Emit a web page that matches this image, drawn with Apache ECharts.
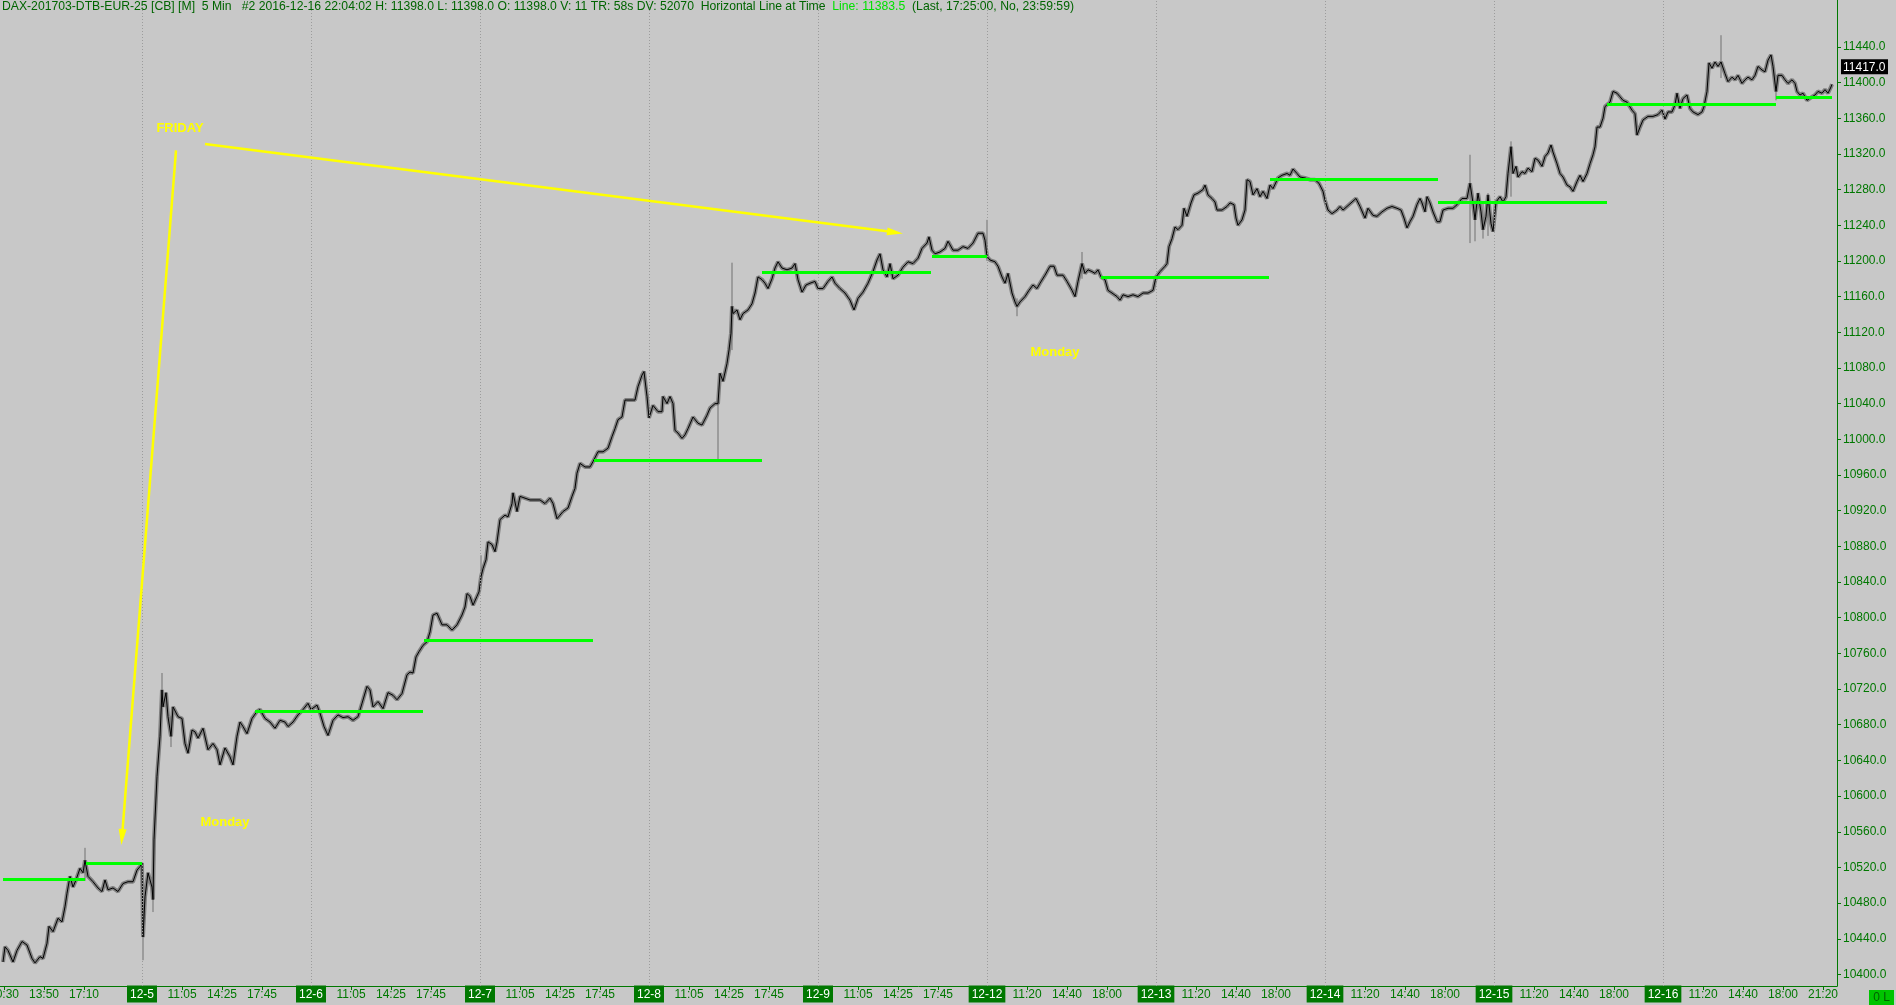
<!DOCTYPE html>
<html><head><meta charset="utf-8">
<script src="https://cdn.jsdelivr.net/npm/echarts@6/dist/echarts.min.js"></script>
<style>html,body{margin:0;padding:0;background:#c8c8c8;overflow:hidden}#c{width:1896px;height:1005px}</style>
</head><body><div id="c"></div><script>
// ---- DATA (x = 5-minute bar number from the left edge, y = price) ----
const closes = [
[3,10414],[5,10431],[8,10427],[13,10414],[17,10427],[22,10437],[27,10433],[32,10418],[35,10413],[40,10420],[43,10418],[47,10435],[49,10454],[53,10448],[58,10463],[62,10459],[65,10476],[67,10491],[70,10510],[73,10498],[76,10506],[80,10519],[83,10514],[85,10528],[88,10510],[93,10504],[98,10497],[102,10493],[105,10506],[108,10495],[113,10497],[118,10493],[123,10502],[128,10504],[133,10504],[137,10517],[140,10521],[142,10525],
[143,10442],[145,10487],[148,10514],[152,10498],[153,10484],[154,10551],[157,10622],[160,10667],[162,10719],[163,10700],[166,10716],[168,10689],[171,10667],[173,10700],[178,10689],[182,10687],[185,10659],[188,10648],[192,10674],[195,10672],[198,10665],[203,10676],[208,10652],[213,10659],[217,10652],[220,10635],[225,10654],[230,10644],[233,10635],[237,10667],[240,10683],[243,10678],[247,10670],[252,10687],[257,10695],[260,10697],[265,10687],[270,10683],[275,10676],[280,10685],[285,10683],[288,10678],[293,10683],[298,10691],[303,10697],[308,10704],[311,10697],
[317,10702],[320,10693],[324,10678],[328,10668],[333,10685],[338,10691],[343,10688],[348,10689],[353,10685],[358,10689],[362,10704],[367,10723],[370,10719],[373,10700],[378,10706],[383,10698],[388,10716],[393,10713],[397,10708],[402,10715],[407,10736],[410,10739],[413,10738],[416,10756],[419,10762],[423,10769],[427,10773],[430,10784],[433,10803],[437,10805],[442,10792],[447,10792],[452,10786],[457,10792],[462,10803],[465,10812],[467,10827],[470,10824],[473,10814],[477,10824],[479,10829],
[481,10846],[483,10855],[486,10865],[488,10885],[492,10882],[495,10874],[497,10885],[500,10910],[505,10915],[508,10913],[512,10928],[513,10940],[517,10919],[520,10936],[525,10934],[530,10932],[535,10932],[540,10932],[545,10928],[550,10934],[553,10928],[557,10911],[560,10915],[563,10919],[568,10923],[572,10936],[575,10945],[577,10962],[580,10973],[585,10969],[590,10969],[593,10975],[598,10986],[603,10986],[608,10990],[612,11003],[615,11012],[618,11022],[622,11025],[625,11044],[630,11044],[635,11044],[638,11059],[642,11072],[644,11076],[647,11048],
[649,11024],[653,11038],[658,11031],[662,11031],[663,11048],[667,11040],[670,11048],[673,11040],[675,11010],[678,11007],[682,11001],[685,11005],[688,11012],[693,11025],[698,11018],[702,11016],[707,11027],[710,11035],[715,11040],[718,11040],[720,11074],[723,11065],[727,11085],[729,11100],[731,11119],[732,11149],[733,11141],[737,11145],[740,11134],[743,11141],[748,11145],[752,11152],[755,11164],[758,11182],[762,11179],[765,11175],[768,11169],[772,11180],[775,11192],[778,11199],[782,11192],[787,11190],[792,11192],[795,11197],[798,11179],[802,11165],[806,11173],[810,11175],[815,11177],[818,11169],
[823,11169],[828,11177],[832,11182],[835,11175],[840,11169],[845,11164],[850,11156],[854,11145],[858,11158],[863,11165],[868,11175],[873,11188],[877,11201],[880,11208],[883,11190],[887,11182],[890,11197],[893,11180],[898,11184],[903,11193],[908,11199],[913,11197],[918,11203],[922,11214],[927,11220],[929,11227],[932,11212],[935,11208],[940,11210],[945,11214],[948,11222],[953,11212],[958,11212],[963,11216],[968,11214],[973,11220],[978,11231],[983,11231],[985,11223],[987,11205],
[990,11201],[995,11199],[998,11194],[1002,11182],[1005,11175],[1008,11186],[1012,11164],[1015,11154],[1017,11149],[1020,11154],[1025,11160],[1029,11167],[1033,11173],[1037,11169],[1040,11175],[1045,11184],[1050,11194],[1054,11194],[1057,11184],[1063,11184],[1067,11177],[1072,11167],[1075,11160],[1078,11177],[1082,11197],[1085,11186],[1088,11190],[1092,11188],[1095,11186],[1098,11190],[1101,11182],[1105,11179],[1108,11167],[1112,11164],[1117,11160],[1120,11156],[1123,11162],[1128,11160],[1133,11162],[1138,11160],[1143,11164],[1148,11164],[1153,11167],[1156,11182],
[1160,11188],[1165,11194],[1167,11197],[1169,11216],[1172,11225],[1175,11238],[1178,11235],[1182,11240],[1184,11259],[1187,11250],[1191,11265],[1194,11274],[1198,11276],[1203,11280],[1205,11285],[1208,11274],[1212,11270],[1215,11266],[1217,11257],[1222,11257],[1227,11261],[1230,11265],[1234,11263],[1236,11248],[1238,11240],[1242,11246],[1245,11257],[1247,11291],[1250,11289],[1253,11274],[1257,11281],[1260,11272],[1263,11278],[1267,11270],[1270,11285],[1273,11281],[1278,11293],[1282,11296],[1287,11298],[1290,11296],[1293,11303],[1297,11298],[1300,11294],[1305,11293],[1310,11291],[1315,11291],[1319,11287],[1323,11278],[1325,11268],
[1328,11257],[1332,11253],[1337,11257],[1340,11261],[1343,11257],[1347,11261],[1352,11266],[1356,11270],[1360,11261],[1365,11248],[1368,11259],[1373,11251],[1377,11250],[1382,11255],[1387,11259],[1392,11261],[1397,11259],[1401,11257],[1404,11248],[1407,11237],[1410,11244],[1413,11250],[1417,11263],[1420,11270],[1422,11265],[1425,11255],[1427,11272],[1430,11265],[1433,11255],[1437,11244],[1440,11244],[1443,11257],[1448,11259],[1453,11259],[1457,11263],[1462,11270],[1467,11270],[1470,11287],[1473,11265],[1475,11246],[1478,11276],[1481,11255],[1483,11235],[1486,11250],[1488,11274],[1491,11242],[1493,11233],
[1496,11266],[1500,11272],[1503,11266],[1506,11272],[1508,11298],[1511,11328],[1513,11298],[1516,11306],[1518,11294],[1522,11300],[1525,11298],[1528,11304],[1532,11300],[1535,11315],[1538,11313],[1542,11306],[1545,11317],[1548,11321],[1551,11330],[1553,11322],[1557,11309],[1560,11298],[1563,11294],[1567,11285],[1570,11283],[1573,11278],[1577,11289],[1580,11296],[1583,11289],[1587,11298],[1590,11309],[1593,11319],[1595,11328],[1597,11350],[1600,11350],[1603,11360],[1605,11373],[1607,11375],[1610,11378],[1613,11390],[1617,11388],[1620,11384],[1623,11380],[1627,11378],[1632,11369],[1635,11365],[1637,11341],[1640,11350],[1643,11358],[1648,11362],[1653,11362],[1658,11364],[1662,11369],
[1665,11359],[1668,11367],[1672,11367],[1675,11375],[1677,11388],[1680,11371],[1683,11382],[1687,11386],[1690,11371],[1693,11367],[1698,11364],[1702,11367],[1704,11373],[1707,11390],[1709,11422],[1712,11416],[1715,11423],[1718,11418],[1721,11423],[1723,11425],[1725,11410],[1728,11401],[1732,11406],[1735,11403],[1738,11408],[1742,11399],[1745,11403],[1748,11406],[1752,11403],[1755,11408],[1758,11418],[1762,11414],[1765,11412],[1768,11425],[1771,11431],[1773,11418],[1776,11390],[1778,11408],[1782,11408],[1785,11403],[1788,11399],[1792,11403],[1795,11399],[1797,11390],[1800,11386],[1803,11388],[1807,11380],[1812,11384],[1815,11386],[1818,11390],[1822,11388],[1825,11392],[1828,11388],[1831,11395],[1832,11398]
];
// [bar, low, high] for the long bar wicks
const wicks = [[85,10505,10542],[143,10416,10446],[153,10470,10500],[162,10700,10738],[171,10655,10690],[481,10842,10870],[718,10977,11042],[732,11100,11198],[987,11200,11246],[1017,11138,11158],[1082,11180,11210],[1470,11220,11319],[1475,11222,11262],[1483,11225,11266],[1488,11228,11276],[1511,11272,11334],[1721,11405,11453],[1776,11380,11395]];
// horizontal "line at time 17:25" levels: [startBar, endBar, price]
const levelLines = [[3,85,10507],[86,142,10525],[255,423,10695],[424,593,10775],[594,762,10977],[762,931,11187],[932,987,11205],[1101,1269,11182],[1270,1438,11292],[1438,1607,11266],[1607,1776,11376],[1776,1832,11384]];
const dayStarts = [142,311,480,649,818,987,1156,1325,1494,1663];
const dayNames = ['12-5','12-6','12-7','12-8','12-9','12-12','12-13','12-14','12-15','12-16'];
const fridayTickBars = [4,44,84];
const fridayTimes = ['10:30','13:50','17:10'];
const intradayOffsets = [40,80,120,160];
const week1Times = ['11:05','14:25','17:45'];
const week2Times = ['11:20','14:40','18:00','21:20'];
const yTicks = [10400,10440,10480,10520,10560,10600,10640,10680,10720,10760,10800,10840,10880,10920,10960,11000,11040,11080,11120,11160,11200,11240,11280,11320,11360,11400,11440];
const priceMarker = 11417;
// annotations in data coordinates
const arrows = [[[176,11324],[122,10554]],[[205,11331],[895,11232]]];
const notes = [['FRIDAY',180,11349],['Monday',225,10570],['Monday',1055,11097]];

// ---- build x ticks ----
const xTicks = []; const xLabel = {};
fridayTickBars.forEach((b,i)=>{xTicks.push(b); xLabel[b]='{t|'+fridayTimes[i]+'}';});
dayStarts.forEach((d,k)=>{
  xTicks.push(d); xLabel[d]='{d|'+dayNames[k]+'}';
  const times = k<5 ? week1Times : week2Times;
  const n = k===dayStarts.length-1 ? 4 : 3;
  for(let j=0;j<n;j++){const b=d+intradayOffsets[j]; xTicks.push(b); xLabel[b]='{t|'+times[j]+'}';}
});

const G = '#007800';
const FONT = 'Liberation Sans';
const chart = echarts.init(document.getElementById('c'), null, {renderer:'canvas'});
chart.setOption({
  animation:false,
  backgroundColor:'#c8c8c8',
  grid:{left:0,right:59,top:0,bottom:19,outerBoundsMode:'none',containLabel:false},
  xAxis:{type:'value',min:0,max:1837,
    axisLine:{show:true,onZero:false,lineStyle:{color:G,width:1}},
    axisTick:{show:true,customValues:xTicks,length:4,lineStyle:{color:G}},
    axisLabel:{customValues:xTicks,margin:2,formatter:v=>xLabel[v]||'',
      rich:{d:{backgroundColor:G,color:'#fff',padding:[3,3,2,3],fontSize:12,lineHeight:12,fontFamily:FONT},
            t:{color:G,padding:[3,3,2,3],fontSize:12,lineHeight:12,fontFamily:FONT}}},
    splitLine:{show:false}},
  yAxis:{type:'value',position:'right',min:10387.1,max:11492.5,
    axisLine:{show:true,onZero:false,lineStyle:{color:G,width:1}},
    axisTick:{show:true,customValues:yTicks,length:4,lineStyle:{color:G}},
    axisLabel:{customValues:yTicks,margin:6,color:G,fontSize:12,fontFamily:FONT,formatter:v=>v.toFixed(1)},
    splitLine:{show:false}},
  series:[
    {type:'line',data:closes,symbol:'none',silent:true,lineStyle:{color:'#808080',width:4,join:'bevel'},z:2,
     markLine:{silent:true,symbol:['none','none'],label:{show:false},lineStyle:{color:'#9c9c9c',type:[1,2],width:1},
       data:dayStarts.map(x=>({xAxis:x}))}},
    {type:'custom',data:wicks,silent:true,z:3,encode:{x:0,y:[1,2]},
     renderItem:(p,api)=>{const a=api.coord([api.value(0),api.value(1)]);const b=api.coord([api.value(0),api.value(2)]);
       return {type:'line',shape:{x1:a[0],y1:a[1],x2:b[0],y2:b[1]},style:{stroke:'#707070',lineWidth:1}};}},
    {type:'line',data:closes,symbol:'none',silent:true,lineStyle:{color:'#000',width:1,join:'miter'},z:4,
     markLine:{silent:true,symbol:['none','none'],label:{show:false},lineStyle:{color:'#00ff00',width:3,type:'solid'},
       data:levelLines.map(([a,b,v])=>[{coord:[a,v]},{coord:[b,v]}])}},
    {type:'line',data:[],z:6,silent:true,
     markLine:{silent:true,symbol:['none','triangle'],symbolSize:16,label:{show:false},
       lineStyle:{color:'#ffff00',width:2.5,type:'solid'},itemStyle:{color:'#ffff00'},
       data:arrows.map(([s,e])=>[{coord:s,symbol:'none'},{coord:e,symbol:'triangle',symbolSize:[8,16]}])},
     markPoint:{silent:true,symbol:'rect',symbolSize:1,itemStyle:{color:'rgba(0,0,0,0)'},
       label:{show:true,position:'inside',color:'#ffff00',fontWeight:'bold',fontSize:13,fontFamily:FONT,formatter:p=>p.name},
       data:notes.map(([n,x,y])=>({name:n,coord:[x,y]}))}}
  ]
});
// current-price marker placed through the y axis scale
const py = chart.convertToPixel({yAxisIndex:0}, priceMarker);
const px = chart.convertToPixel({xAxisIndex:0}, 1837);
chart.setOption({graphic:[
  {id:'title',type:'text',left:2,top:1,z:100,style:{text:'DAX-201703-DTB-EUR-25 [CB] [M]  5 Min   #2 2016-12-16 22:04:02 H: 11398.0 L: 11398.0 O: 11398.0 V: 11 TR: 58s DV: 52070  Horizontal Line at Time  {b|Line: 11383.5}  (Last, 17:25:00, No, 23:59:59)',
    fill:'#006400',font:'12.2px "Liberation Sans"',rich:{b:{fill:'#00e000',font:'12.2px "Liberation Sans"'}}}},
  {id:'olRect',type:'rect',x:1869,y:990,z:100,shape:{x:0,y:0,width:25,height:15},style:{fill:'#00c400'}},
  {id:'olText',type:'text',x:1881.5,y:997.5,z:101,style:{text:'0 L',fill:'#006000',font:'12px "Liberation Sans"',align:'center',verticalAlign:'middle'}},
  {id:'pmRect',type:'rect',x:px+4,y:py-8,z:100,shape:{x:0,y:0,width:47,height:15},style:{fill:'#000'}},
  {id:'pmText',type:'text',x:px+6,y:py,z:101,style:{text:priceMarker.toFixed(1),fill:'#fff',font:'12px "Liberation Sans"',verticalAlign:'middle'}}
]});
</script></body></html>
